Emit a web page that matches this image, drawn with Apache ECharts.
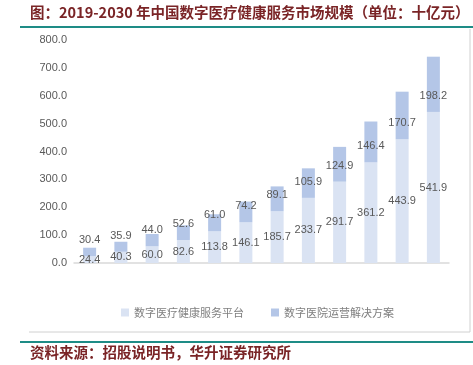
<!DOCTYPE html>
<html>
<head>
<meta charset="utf-8">
<script src="https://cdn.jsdelivr.net/npm/echarts@6/dist/echarts.min.js"></script>
<style>
  html, body { margin: 0; padding: 0; background: #fff; }
  #main { width: 473px; height: 365px; }
</style>
</head>
<body>
<div id="main"></div>
<script>
// 年份（图中横轴不显示标签）
let years = ['2019', '2020', '2021', '2022', '2023', '2024', '2025', '2026', '2027', '2028', '2029', '2030'];
// 数字医疗健康服务平台
let platform = [24.4, 40.3, 60.0, 82.6, 113.8, 146.1, 185.7, 233.7, 291.7, 361.2, 443.9, 541.9];
// 数字医院运营解决方案
let hospital = [30.4, 35.9, 44.0, 52.6, 61.0, 74.2, 89.1, 105.9, 124.9, 146.4, 170.7, 198.2];
let seriesNames = ['数字医疗健康服务平台', '数字医院运营解决方案'];

let titleText = '图：2019-2030 年中国数字医疗健康服务市场规模（单位：十亿元）';
let sourceText = '资料来源：招股说明书，华升证券研究所';

let darkRed = '#7a2426';
let teal = '#1e8c86';
let labelFont = 'Liberation Sans, Noto Sans CJK SC, sans-serif';

let chart = echarts.init(document.getElementById('main'));

let option = {
    animation: false,
    backgroundColor: '#fff',
    grid: { left: 74, right: 24, top: 40, bottom: 102 },
    legend: {
        data: seriesNames,
        left: 116,
        top: 302,
        itemWidth: 8,
        itemHeight: 8,
        itemGap: 27,
        icon: 'rect',
        textStyle: { color: '#7f7f7f', fontSize: 11, fontFamily: 'Noto Sans CJK SC' }
    },
    xAxis: {
        type: 'category',
        data: years,
        axisLine: { lineStyle: { color: '#d9d9d9', width: 1.5 } },
        axisTick: { show: false },
        axisLabel: { show: false }
    },
    yAxis: {
        type: 'value',
        min: 0,
        max: 800,
        interval: 100,
        splitLine: { show: false },
        axisLine: { show: false },
        axisTick: { show: false },
        axisLabel: {
            color: '#595959',
            fontSize: 11,
            fontFamily: labelFont,
            margin: 7,
            formatter: v => v.toFixed(1)
        }
    },
    series: [
        {
            name: seriesNames[0],
            type: 'bar',
            stack: 'total',
            barWidth: 13,
            data: platform,
            itemStyle: { color: '#dae3f3' },
            label: {
                show: true,
                position: 'inside',
                color: '#595959',
                fontSize: 11,
                fontFamily: labelFont,
                formatter: p => p.value.toFixed(1)
            }
        },
        {
            name: seriesNames[1],
            type: 'bar',
            stack: 'total',
            barWidth: 13,
            data: hospital,
            itemStyle: { color: '#b4c6e7' },
            label: {
                show: true,
                position: ['50%', '100%'],
                offset: [0, -16],
                align: 'center',
                verticalAlign: 'middle',
                color: '#595959',
                fontSize: 11,
                fontFamily: labelFont,
                formatter: p => p.value.toFixed(1)
            }
        }
    ],
    graphic: [
        {
            type: 'text',
            left: 30,
            top: 5,
            style: {
                text: titleText,
                fill: darkRed,
                font: 'bold 14.5px "Noto Sans CJK SC"'
            }
        },
        {
            type: 'line',
            shape: { x1: 20, y1: 27, x2: 473, y2: 27 },
            style: { stroke: teal, lineWidth: 2 }
        },
        {
            type: 'polyline',
            shape: { points: [[470, 29], [470, 332], [29, 332]] },
            style: { stroke: '#d0d0d0', lineWidth: 1, fill: null }
        },
        {
            type: 'line',
            shape: { x1: 20, y1: 342, x2: 473, y2: 342 },
            style: { stroke: teal, lineWidth: 2 }
        },
        {
            type: 'text',
            left: 30,
            top: 345,
            style: {
                text: sourceText,
                fill: darkRed,
                font: 'bold 14.5px "Noto Sans CJK SC"'
            }
        }
    ]
};

chart.setOption(option);
</script>
</body>
</html>
